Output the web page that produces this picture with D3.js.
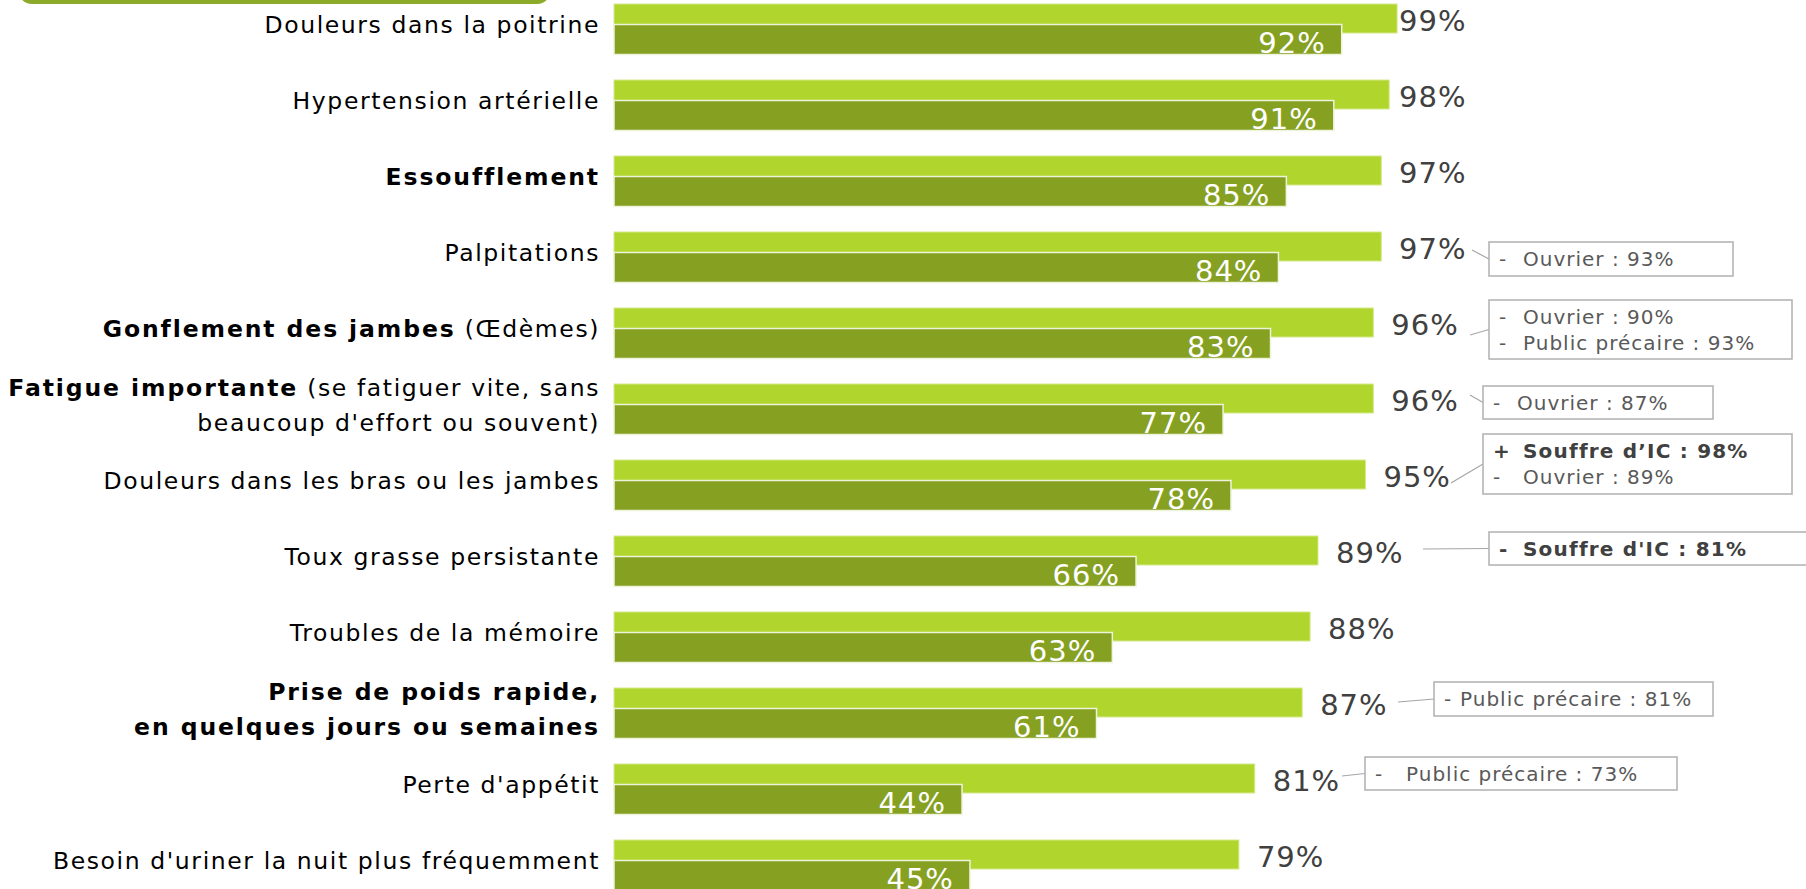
<!DOCTYPE html>
<html>
<head>
<meta charset="utf-8">
<script src="https://cdn.jsdelivr.net/npm/d3@7"></script>
<style>
  body { margin: 0; background: #fff; }
  svg { display: block; }
  text { font-family: "DejaVu Sans", Verdana, sans-serif; white-space: pre; }
</style>
</head>
<body>
<script>
// symptoms, top to bottom
const categories = [
    "poitrine", "hypertension", "essoufflement", "palpitations", "jambes",
    "fatigue", "bras", "toux", "memoire", "poids", "appetit", "uriner"
];

// label text, one array per line, segments [text, bold]
const labelLines = [
    [[["Douleurs dans la poitrine", false]]],
    [[["Hypertension artérielle", false]]],
    [[["Essoufflement", true]]],
    [[["Palpitations", false]]],
    [[["Gonflement des jambes", true], [" (Œdèmes)", false]]],
    [[["Fatigue importante", true], [" (se fatiguer vite, sans", false]],
     [["beaucoup d'effort ou souvent)", false]]],
    [[["Douleurs dans les bras ou les jambes", false]]],
    [[["Toux grasse persistante", false]]],
    [[["Troubles de la mémoire", false]]],
    [[["Prise de poids rapide,", true]], [["en quelques jours ou semaines", true]]],
    [[["Perte d'appétit", false]]],
    [[["Besoin d'uriner la nuit plus fréquemment", false]]]
];

const valuesLight = [99, 98, 97, 97, 96, 96, 95, 89, 88, 87, 81, 79];
const valuesDark  = [92, 91, 85, 84, 83, 77, 78, 66, 63, 61, 44, 45];

// side notes: row index, prefix, text, bold
const notes = [
    { row: 3,  lines: [["-", "Ouvrier : 93%", false]] },
    { row: 4,  lines: [["-", "Ouvrier : 90%", false], ["-", "Public précaire : 93%", false]] },
    { row: 5,  lines: [["-", "Ouvrier : 87%", false]] },
    { row: 6,  lines: [["+", "Souffre d’IC : 98%", true], ["-", "Ouvrier : 89%", false]] },
    { row: 7,  lines: [["-", "Souffre d'IC : 81%", true]] },
    { row: 9,  lines: [["-", "Public précaire : 81%", false]] },
    { row: 10, lines: [["-", "Public précaire : 73%", false]] }
];

// where each note box sits: box [x, y, w, h], text indent, connector start [x, y]
const noteLayout = [
    { box: [1489, 242, 244, 34], indent: 34, from: [1472, 250] },
    { box: [1489, 300, 303, 59], indent: 34, from: [1470, 335] },
    { box: [1483, 386, 230, 33], indent: 34, from: [1470, 395] },
    { box: [1483, 434, 309, 60], indent: 40, from: [1451, 483] },
    { box: [1489, 532, 330, 33], indent: 34, from: [1423, 549] },
    { box: [1434, 682, 279, 34], indent: 26, from: [1398, 702] },
    { box: [1365, 757, 312, 33], indent: 41, from: [1342, 776] }
];

document.addEventListener("DOMContentLoaded", () => {

    const width = 1806;
    const height = 889;

    const lightColor = "#b0d52d";
    const darkColor = "#86a122";

    const svg = d3.select("body")
        .append("svg")
        .attr("width", width)
        .attr("height", height);

    const x = d3.scaleLinear().domain([0, 100]).range([614, 1405]);
    const y = d3.scaleBand().domain(categories).range([4, 4 + 76 * categories.length]);

    // green banner peeking in at the top
    svg.append("rect")
        .attr("x", 18).attr("y", -30)
        .attr("width", 533).attr("height", 34)
        .attr("rx", 14)
        .attr("fill", "#8dab2a");

    const rows = svg.selectAll("g.row")
        .data(categories)
        .enter()
        .append("g")
        .attr("class", "row");

    rows.append("rect")
        .attr("x", x(0))
        .attr("y", d => y(d))
        .attr("width", (d, i) => x(valuesLight[i]) - x(0))
        .attr("height", 29)
        .attr("fill", lightColor)
        .attr("stroke", "#d4ea8a")
        .attr("stroke-width", 1);

    rows.append("rect")
        .attr("x", x(0))
        .attr("y", d => y(d) + 20.5)
        .attr("width", (d, i) => x(valuesDark[i]) - x(0))
        .attr("height", 30)
        .attr("fill", darkColor)
        .attr("stroke", "#eef3dc")
        .attr("stroke-width", 1.5);

    // value labels
    rows.append("text")
        .attr("x", (d, i) => Math.min(x(valuesLight[i]) + 18, x(100) - 6))
        .attr("y", d => y(d) + 27)
        .attr("font-size", 29)
        .attr("letter-spacing", 1)
        .attr("fill", "#404040")
        .text((d, i) => valuesLight[i] + "%");

    rows.append("text")
        .attr("x", (d, i) => x(valuesDark[i]) - 16)
        .attr("y", d => y(d) + 48.5)
        .attr("text-anchor", "end")
        .attr("font-size", 29)
        .attr("letter-spacing", 1)
        .attr("fill", "#ffffff")
        .text((d, i) => valuesDark[i] + "%");

    // category labels
    rows.each(function (d, i) {
        const lines = labelLines[i];
        const mid = y(d) + 29;
        const gap = 35;
        const t0 = mid - (lines.length - 1) * gap / 2;
        lines.forEach((segs, j) => {
            const t = d3.select(this).append("text")
                .attr("x", 600)
                .attr("y", t0 + j * gap)
                .attr("text-anchor", "end")
                .attr("font-size", 23.5)
                .attr("fill", "#000");
            segs.forEach(s => {
                t.append("tspan")
                    .attr("font-weight", s[1] ? "bold" : "normal")
                    .attr("letter-spacing", s[1] ? 1.9 : 1.6)
                    .text(s[0]);
            });
        });
    });

    // note boxes with connectors
    const g = svg.append("g");
    notes.forEach((n, k) => {
        const L = noteLayout[k];
        const [bx, by, bw, bh] = L.box;
        g.append("line")
            .attr("x1", L.from[0]).attr("y1", L.from[1])
            .attr("x2", bx).attr("y2", by + bh / 2)
            .attr("stroke", "#a6a6a6")
            .attr("stroke-width", 1.2);
        g.append("rect")
            .attr("x", bx).attr("y", by)
            .attr("width", bw).attr("height", bh)
            .attr("fill", "#fff")
            .attr("stroke", "#b0b0b0")
            .attr("stroke-width", 1.5);
        const lh = 26;
        const first = by + bh / 2 + 7 - (n.lines.length - 1) * lh / 2;
        n.lines.forEach((ln, j) => {
            g.append("text")
                .attr("x", bx + 10)
                .attr("y", first + j * lh)
                .attr("font-size", 20)
                .attr("font-weight", ln[2] ? "bold" : "normal")
                .attr("fill", ln[2] ? "#404040" : "#595959")
                .text(ln[0]);
            g.append("text")
                .attr("x", bx + L.indent)
                .attr("y", first + j * lh)
                .attr("font-size", 20)
                .attr("letter-spacing", ln[2] ? 1.2 : 1)
                .attr("font-weight", ln[2] ? "bold" : "normal")
                .attr("fill", ln[2] ? "#404040" : "#595959")
                .text(ln[1]);
        });
    });
});
</script>
</body>
</html>
